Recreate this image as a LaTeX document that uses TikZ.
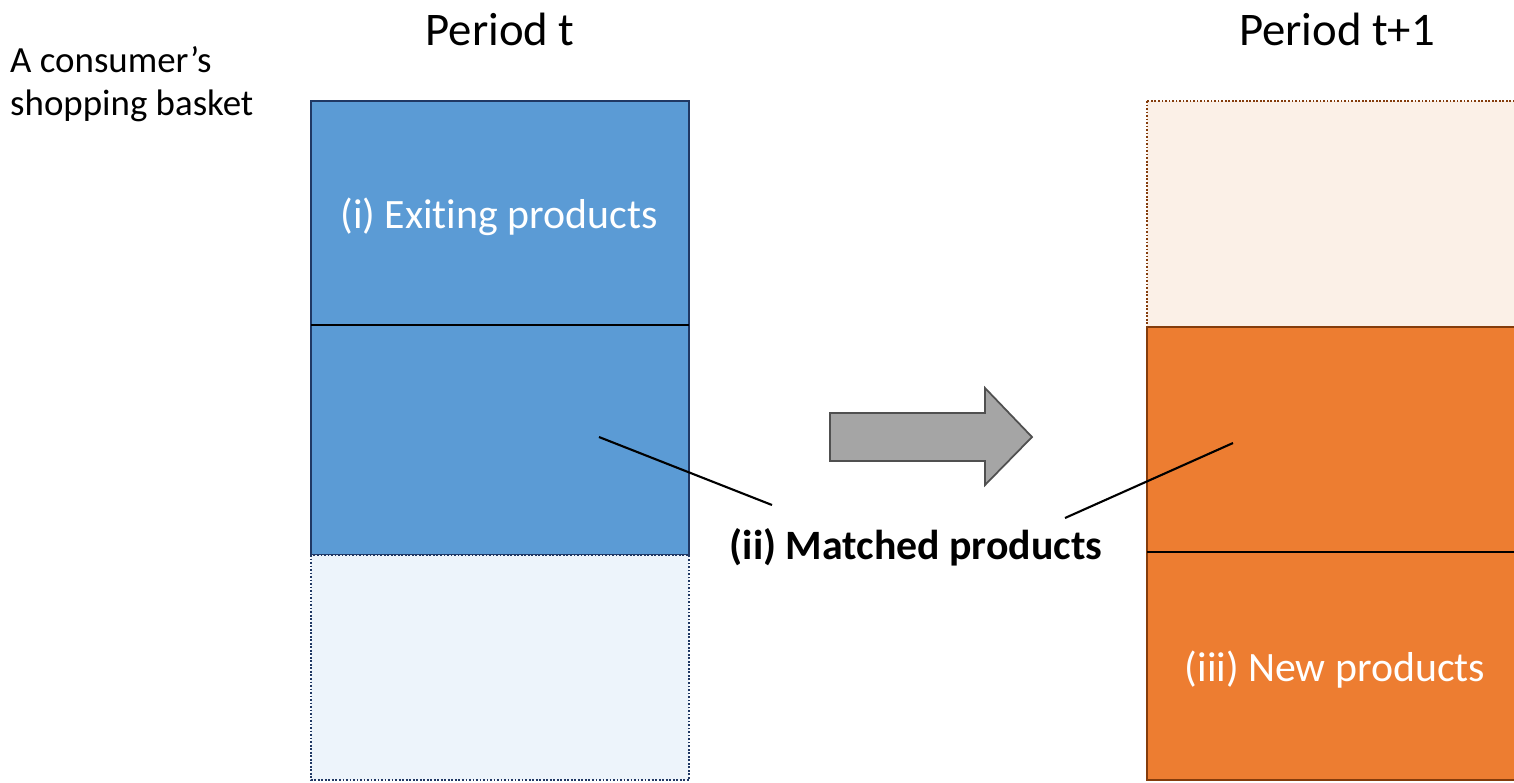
\documentclass[tikz,border=0pt]{standalone}
\usepackage{fontspec}
\setmainfont{Carlito}[Ligatures=NoCommon]
\definecolor{bluefill}{HTML}{5B9BD5}
\definecolor{blueline}{HTML}{203864}
\definecolor{bluepale}{HTML}{EDF4FB}
\definecolor{orangefill}{HTML}{ED7D31}
\definecolor{orangeline}{HTML}{843C0C}
\definecolor{orangepale}{HTML}{FBF0E7}
\definecolor{arrowfill}{HTML}{A5A5A5}
\definecolor{arrowline}{HTML}{505050}
\tikzset{
  part/.style={line width=1pt},
  gone/.style={line width=0.9pt,dash pattern=on 1pt off 1pt},
  split/.style={line width=1.2pt,black},
  inlabel/.style={text=white,font=\fontsize{23.8}{28}\selectfont},
  title/.style={font=\fontsize{26.6}{31}\selectfont},
  pointer/.style={line width=1.2pt,black}
}
\begin{document}
\begin{tikzpicture}[x=0.02cm,y=-0.02cm]
\useasboundingbox (0,0) rectangle (1514,782);
\clip (0,0) rectangle (1514,782);
% period t basket
\draw[part,fill=bluefill,draw=blueline] (311,101) rectangle (689,555);
\draw[gone,fill=bluepale,draw=blueline] (311,555) rectangle (689,780);
\draw[split] (311,325) -- (689,325);
% period t+1 basket
\draw[gone,fill=orangepale,draw=orangeline] (1147,101) rectangle (1530,327);
\draw[part,fill=orangefill,draw=orangeline] (1147,327) rectangle (1530,780);
\draw[split] (1147,552) -- (1530,552);
% titles
\node[title] (pt) at (500,29) {Period t};
\node[title] (pt1) at (1337,29) {Period t+1};
\node[anchor=west,align=left,font=\fontsize{21}{24.4}\selectfont] (basket) at (4,84) {A consumer’s\\shopping basket};
\node[inlabel] (exit) at (499,217) {(i) Exiting products};
\node[inlabel] (new) at (1335,670) {(iii) New products};
% arrow between periods
\draw[line width=1pt,draw=arrowline,fill=arrowfill]
  (830,413) -- (985,413) -- (985,388) -- (1032,437) -- (985,485) -- (985,461) -- (830,461) -- cycle;
% matched products
\node[font=\bfseries\fontsize{23.8}{28}\selectfont] (match) at (916,547) {(ii) Matched products};
\coordinate (mt) at (599,437);
\coordinate (mt1) at (1233,443);
\coordinate (ml) at (772,505);
\coordinate (mr) at (1065,518);
\draw[pointer] (mt) -- (ml);
\draw[pointer] (mt1) -- (mr);
\end{tikzpicture}
\end{document}
